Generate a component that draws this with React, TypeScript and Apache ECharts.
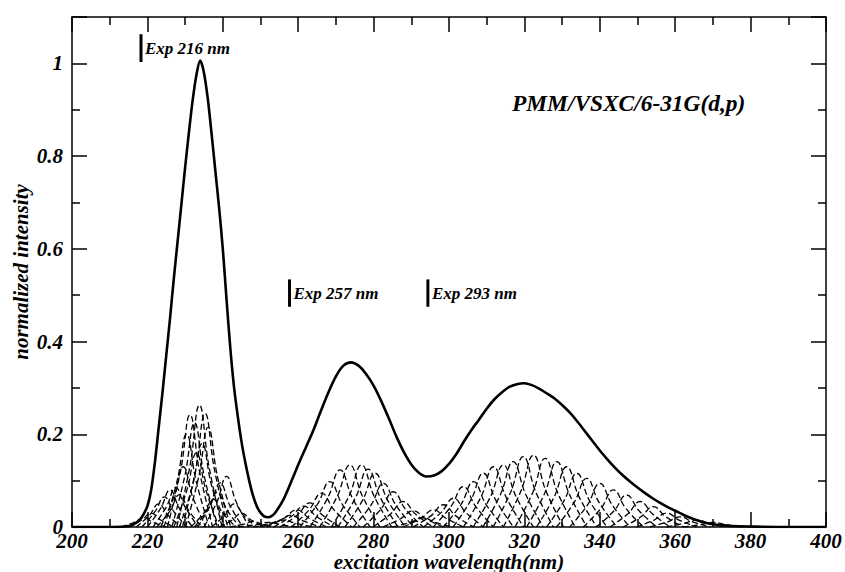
import React, { useEffect, useRef } from "react";
import * as echarts from "echarts";

const X_MIN = 200;
const X_MAX = 400;
const X_STEP = 20;
const Y_MIN = 0;
const Y_MAX = 1.1;
const Y_STEP = 0.2;

const xTitle = "excitation wavelength(nm)";
const yTitle = "normalized intensity";
const methodLabel = "PMM/VSXC/6-31G(d,p)";

// total spectrum (solid)
const mainX = [200, 210, 214, 216, 218, 219, 220, 221, 222, 223, 224, 225, 226, 227, 228, 229, 230, 231, 232, 233, 234, 235, 236, 237, 238, 239, 240, 241, 242, 243, 244, 245, 246, 247, 248, 249, 250, 251, 252, 253, 254, 256, 258, 260, 262, 264, 266, 268, 270, 272, 274, 276, 278, 280, 282, 284, 286, 288, 290, 292, 294, 296, 298, 300, 302, 304, 306, 308, 310, 312, 314, 316, 318, 320, 322, 324, 326, 328, 330, 332, 334, 336, 338, 340, 342, 344, 346, 348, 350, 352, 354, 356, 358, 360, 362, 364, 366, 368, 370, 372, 375, 380, 390, 400];
const mainY = [0, 0, 0.001, 0.004, 0.016, 0.028, 0.045, 0.08, 0.14, 0.215, 0.29, 0.37, 0.45, 0.535, 0.615, 0.695, 0.775, 0.85, 0.92, 0.975, 1.006, 0.98, 0.925, 0.85, 0.77, 0.69, 0.6, 0.49, 0.385, 0.3, 0.237, 0.182, 0.138, 0.1, 0.068, 0.045, 0.031, 0.023, 0.021, 0.024, 0.032, 0.058, 0.095, 0.134, 0.171, 0.208, 0.25, 0.29, 0.325, 0.348, 0.355, 0.348, 0.33, 0.305, 0.272, 0.235, 0.196, 0.162, 0.135, 0.117, 0.109, 0.111, 0.12, 0.136, 0.158, 0.185, 0.21, 0.232, 0.255, 0.275, 0.29, 0.302, 0.308, 0.31, 0.306, 0.298, 0.288, 0.277, 0.263, 0.247, 0.228, 0.207, 0.186, 0.165, 0.146, 0.128, 0.112, 0.098, 0.085, 0.073, 0.062, 0.052, 0.043, 0.035, 0.027, 0.02, 0.014, 0.009, 0.006, 0.004, 0.002, 0.001, 0, 0];

// individual contributions (dashed), each read as five points
const bandA = [
  [[213, 0], [216.5, 0.01], [219, 0.02], [221.5, 0.01], [225, 0]],
  [[215, 0], [218.5, 0.015], [221, 0.03], [223.5, 0.015], [227, 0]],
  [[217, 0], [220.5, 0.025], [223, 0.05], [225.5, 0.025], [229, 0]],
  [[218.5, 0], [222, 0.033], [224.5, 0.065], [227, 0.033], [230.5, 0]],
  [[220, 0], [223.5, 0.04], [226, 0.08], [228.5, 0.04], [232, 0]],
  [[221.5, 0], [225, 0.043], [227.5, 0.085], [230, 0.043], [233.5, 0]],
  [[222.5, 0], [226, 0.035], [228.5, 0.07], [231, 0.035], [234.5, 0]],
  [[223.5, 0], [227, 0.065], [229.5, 0.13], [232, 0.065], [235.5, 0]],
  [[224.4, 0], [227.9, 0.1], [230.4, 0.2], [232.9, 0.1], [236.4, 0]],
  [[225.3, 0], [228.8, 0.121], [231.3, 0.242], [233.8, 0.121], [237.3, 0]],
  [[226.5, 0], [230, 0.113], [232.5, 0.225], [235, 0.113], [238.5, 0]],
  [[227, 0], [230.5, 0.08], [233, 0.16], [235.5, 0.08], [239, 0]],
  [[227.8, 0], [231.3, 0.132], [233.8, 0.263], [236.3, 0.132], [239.8, 0]],
  [[228.5, 0], [232, 0.09], [234.5, 0.18], [237, 0.09], [240.5, 0]],
  [[229.3, 0], [232.8, 0.123], [235.3, 0.245], [237.8, 0.123], [241.3, 0]],
  [[230.1, 0], [233.6, 0.108], [236.1, 0.215], [238.6, 0.108], [242.1, 0]],
  [[231.5, 0], [235, 0.03], [237.5, 0.06], [240, 0.03], [243.5, 0]],
  [[232.5, 0], [236, 0.038], [238.5, 0.075], [241, 0.038], [244.5, 0]],
  [[233.3, 0], [236.8, 0.048], [239.3, 0.095], [241.8, 0.048], [245.3, 0]],
  [[235, 0], [238.5, 0.055], [241, 0.109], [243.5, 0.055], [247, 0]],
  [[237, 0], [240.5, 0.025], [243, 0.05], [245.5, 0.025], [249, 0]],
  [[239, 0], [242.5, 0.015], [245, 0.03], [247.5, 0.015], [251, 0]],
  [[242, 0], [245.5, 0.006], [248, 0.012], [250.5, 0.006], [254, 0]],
];

const bandB = [
  [[244, 0], [248.7, 0.005], [252, 0.01], [255.3, 0.005], [260, 0]],
  [[248, 0], [252.7, 0.008], [256, 0.015], [259.3, 0.008], [264, 0]],
  [[250, 0], [254.7, 0.013], [258, 0.025], [261.3, 0.013], [266, 0]],
  [[251.6, 0], [256.3, 0.019], [259.6, 0.037], [262.9, 0.019], [267.6, 0]],
  [[253.5, 0], [258.2, 0.023], [261.5, 0.045], [264.8, 0.023], [269.5, 0]],
  [[255.1, 0], [259.8, 0.026], [263.1, 0.052], [266.4, 0.026], [271.1, 0]],
  [[258.2, 0], [262.9, 0.037], [266.2, 0.073], [269.5, 0.037], [274.2, 0]],
  [[260.4, 0], [265.1, 0.049], [268.4, 0.098], [271.7, 0.049], [276.4, 0]],
  [[263.1, 0], [267.8, 0.062], [271.1, 0.123], [274.4, 0.062], [279.1, 0]],
  [[265.7, 0], [270.4, 0.067], [273.7, 0.134], [277, 0.067], [281.7, 0]],
  [[268.8, 0], [273.5, 0.067], [276.8, 0.134], [280.1, 0.067], [284.8, 0]],
  [[270.5, 0], [275.2, 0.063], [278.5, 0.125], [281.8, 0.063], [286.5, 0]],
  [[272.4, 0], [277.1, 0.058], [280.4, 0.116], [283.7, 0.058], [288.4, 0]],
  [[274.6, 0], [279.3, 0.047], [282.6, 0.094], [285.9, 0.047], [290.6, 0]],
  [[277.2, 0], [281.9, 0.038], [285.2, 0.076], [288.5, 0.038], [293.2, 0]],
  [[279.8, 0], [284.5, 0.028], [287.8, 0.055], [291.1, 0.028], [295.8, 0]],
  [[282.5, 0], [287.2, 0.018], [290.5, 0.035], [293.8, 0.018], [298.5, 0]],
  [[285, 0], [289.7, 0.01], [293, 0.02], [296.3, 0.01], [301, 0]],
];

const bandC = [
  [[287.9, 0], [292.6, 0.019], [295.9, 0.037], [299.2, 0.019], [303.9, 0]],
  [[290.5, 0], [295.2, 0.024], [298.5, 0.048], [301.8, 0.024], [306.5, 0]],
  [[293.2, 0], [297.9, 0.031], [301.2, 0.062], [304.5, 0.031], [309.2, 0]],
  [[295.8, 0], [300.5, 0.044], [303.8, 0.087], [307.1, 0.044], [311.8, 0]],
  [[298.5, 0], [303.2, 0.049], [306.5, 0.098], [309.8, 0.049], [314.5, 0]],
  [[301.1, 0], [305.8, 0.058], [309.1, 0.116], [312.4, 0.058], [317.1, 0]],
  [[303.8, 0], [308.5, 0.065], [311.8, 0.13], [315.1, 0.065], [319.8, 0]],
  [[306.4, 0], [311.1, 0.067], [314.4, 0.134], [317.7, 0.067], [322.4, 0]],
  [[309, 0], [313.7, 0.071], [317, 0.141], [320.3, 0.071], [325, 0]],
  [[311.7, 0], [316.4, 0.076], [319.7, 0.152], [323, 0.076], [327.7, 0]],
  [[314.4, 0], [319.1, 0.078], [322.4, 0.155], [325.7, 0.078], [330.4, 0]],
  [[317.5, 0], [322.2, 0.074], [325.5, 0.148], [328.8, 0.074], [333.5, 0]],
  [[320.6, 0], [325.3, 0.071], [328.6, 0.141], [331.9, 0.071], [336.6, 0]],
  [[323.2, 0], [327.9, 0.065], [331.2, 0.13], [334.5, 0.065], [339.2, 0]],
  [[325.9, 0], [330.6, 0.058], [333.9, 0.116], [337.2, 0.058], [341.9, 0]],
  [[328.5, 0], [333.2, 0.053], [336.5, 0.105], [339.8, 0.053], [344.5, 0]],
  [[332, 0], [336.7, 0.047], [340, 0.094], [343.3, 0.047], [348, 0]],
  [[335.6, 0], [340.3, 0.04], [343.6, 0.08], [346.9, 0.04], [351.6, 0]],
  [[339.1, 0], [343.8, 0.035], [347.1, 0.069], [350.4, 0.035], [355.1, 0]],
  [[342.7, 0], [347.4, 0.028], [350.7, 0.055], [354, 0.028], [358.7, 0]],
  [[346.2, 0], [350.9, 0.022], [354.2, 0.044], [357.5, 0.022], [362.2, 0]],
  [[349.7, 0], [354.4, 0.015], [357.7, 0.03], [361, 0.015], [365.7, 0]],
  [[353.3, 0], [358, 0.011], [361.3, 0.022], [364.6, 0.011], [369.3, 0]],
  [[357.7, 0], [362.4, 0.008], [365.7, 0.015], [369, 0.008], [373.7, 0]],
  [[362, 0], [366.7, 0.005], [370, 0.01], [373.3, 0.005], [378, 0]],
];

// experimental markers
const expLabels = ["Exp 216 nm", "Exp 257 nm", "Exp 293 nm"];
const expX = [218.3, 257.7, 294.4];
const expYLow = [1.003, 0.475, 0.475];
const expYHigh = [1.063, 0.534, 0.534];

const FONT = "Liberation Serif";

export default function App() {
  const ref = useRef<HTMLDivElement>(null);

  useEffect(() => {
    if (!ref.current) return;
    const chart = echarts.init(ref.current, null, { renderer: "svg" });
    const txt = (size: number) => ({
      fontFamily: FONT,
      fontWeight: "bold" as const,
      fontStyle: "italic" as const,
      fontSize: size,
      color: "#000",
    });

    const axisCommon = {
      axisLine: { show: true, onZero: false, lineStyle: { color: "#000", width: 1.5 } },
      axisTick: { show: true, inside: true, length: 15, lineStyle: { color: "#000", width: 1.5 } },
      minorTick: { show: true, splitNumber: 2, length: 8, lineStyle: { color: "#000", width: 1.5 } },
      splitLine: { show: false },
      minorSplitLine: { show: false },
    };

    const dashedSeries = [...bandA, ...bandB, ...bandC].map((pts) => ({
      type: "line",
      data: pts,
      smooth: 0.45,
      symbol: "none",
      silent: true,
      z: 2,
      lineStyle: { color: "#000", width: 1.3, type: [6, 3] },
    }));

    const markerSeries = expX.map((x, i) => ({
      type: "line",
      data: [
        [x, expYLow[i]],
        [x, expYHigh[i]],
      ],
      symbol: "none",
      silent: true,
      z: 4,
      lineStyle: { color: "#000", width: 3 },
    }));

    const option: any = {
      animation: false,
      backgroundColor: "#fff",
      grid: { left: 72, right: 19, top: 17, bottom: 45, containLabel: false },
      xAxis: [
        {
          type: "value",
          min: X_MIN,
          max: X_MAX,
          interval: X_STEP,
          position: "bottom",
          ...axisCommon,
          axisLabel: { show: true, margin: 3, ...txt(21) },
        },
        {
          type: "value",
          min: X_MIN,
          max: X_MAX,
          interval: X_STEP,
          position: "top",
          ...axisCommon,
          axisLabel: { show: false },
        },
      ],
      yAxis: [
        {
          type: "value",
          min: Y_MIN,
          max: Y_MAX,
          interval: Y_STEP,
          position: "left",
          ...axisCommon,
          axisLabel: {
            show: true,
            margin: 9,
            ...txt(21),
            formatter: (v: number) => (v > 1.05 ? "" : String(parseFloat(v.toFixed(1)))),
          },
        },
        {
          type: "value",
          min: Y_MIN,
          max: Y_MAX,
          interval: Y_STEP,
          position: "right",
          ...axisCommon,
          axisLabel: { show: false },
        },
      ],
      series: [
        ...dashedSeries,
        {
          type: "line",
          data: mainX.map((x, i) => [x, mainY[i]]),
          smooth: 0.3,
          symbol: "none",
          silent: true,
          z: 3,
          lineStyle: { color: "#000", width: 2.6 },
        },
        ...markerSeries,
      ],
    };
    chart.setOption(option);

    const textStyle = (size: number) => ({
      fontFamily: FONT,
      fontWeight: "bold",
      fontStyle: "italic",
      fontSize: size,
      fill: "#000",
    });

    const labelGraphics = expLabels.map((t, i) => {
      const p = chart.convertToPixel({ gridIndex: 0 }, [expX[i], (expYLow[i] + expYHigh[i]) / 2]);
      return {
        type: "text",
        x: p[0] + 4,
        y: p[1],
        style: { text: t, align: "left", verticalAlign: "middle", ...textStyle(17) },
      };
    });

    chart.setOption({
      graphic: [
        ...labelGraphics,
        {
          type: "text",
          x: 512,
          y: 103,
          style: { text: methodLabel, align: "left", verticalAlign: "middle", ...textStyle(23.4) },
        },
        {
          type: "text",
          x: 449,
          y: 562,
          style: { text: xTitle, align: "center", verticalAlign: "middle", ...textStyle(21) },
        },
        {
          type: "text",
          x: 21,
          y: 272,
          rotation: Math.PI / 2,
          style: { text: yTitle, align: "center", verticalAlign: "middle", ...textStyle(21) },
        },
      ],
    });

    return () => chart.dispose();
  }, []);

  return (
    <div
      ref={ref}
      style={{ position: "fixed", left: 0, top: 0, width: 845, height: 572, background: "#fff" }}
    />
  );
}
